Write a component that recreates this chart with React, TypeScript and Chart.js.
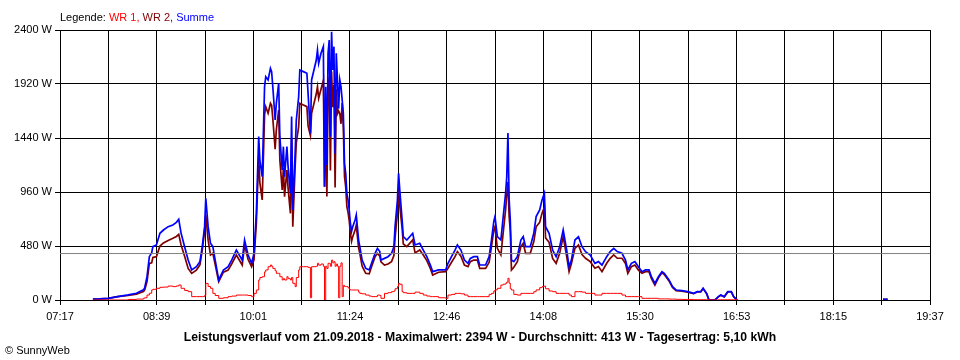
import React, { useEffect, useRef } from 'react';
import { Chart, registerables } from 'chart.js';
Chart.register(...registerables);

// ---- data ----
const times = [
  '07:45','07:51','07:58','08:06','08:15','08:22','08:28','08:29','08:31','08:33','08:35','08:36','08:39','08:42','08:45','08:49','08:53','08:56','08:58','09:00',
  '09:03','09:06','09:09','09:13','09:16','09:18','09:20','09:21','09:23','09:25','09:27','09:29','09:32','09:36','09:40','09:43','09:47','09:52','09:54','09:57',
  '10:00','10:02','10:04','10:06','10:07','10:09','10:11','10:12','10:14','10:16','10:17','10:18','10:20','10:21','10:23','10:24','10:26','10:27','10:28','10:30',
  '10:31','10:33','10:34','10:35','10:37','10:38','10:40','10:41','10:44','10:47','10:48','10:50','10:51','10:55','10:56','10:57','10:59','11:01','11:02','11:03',
  '11:04','11:05','11:06','11:07','11:08','11:09','11:10','11:11','11:12','11:13','11:14','11:15','11:16','11:17','11:18','11:19','11:20','11:21','11:22','11:23','11:24',
  '11:25','11:26','11:28','11:29','11:31','11:32','11:34','11:37','11:40','11:42','11:45','11:47','11:49','11:50','11:53','11:56','11:59','12:01','12:02','12:04',
  '12:05','12:06','12:08','12:09','12:12','12:17','12:19','12:23','12:26','12:29','12:32','12:34','12:39','12:45','12:47','12:50','12:53','12:55','12:58','13:01',
  '13:04','13:06','13:09','13:12','13:14','13:19','13:22','13:24','13:26','13:27','13:29','13:32','13:34','13:36','13:37','13:38','13:39','13:40','13:41','13:43',
  '13:46','13:49','13:51','13:53','13:57','14:00','14:02','14:05','14:07','14:09','14:10','14:13','14:16','14:19','14:22','14:25','14:28','14:30','14:32','14:35',
  '14:38','14:41','14:44','14:48','14:52','14:55','14:58','15:02','15:05','15:08','15:11','15:15','15:18','15:20','15:23','15:26','15:29','15:32','15:35','15:38',
  '15:40','15:43','15:46','15:49','15:51','15:55','15:58','16:01','16:06','16:11','16:16','16:19','16:22','16:24','16:27','16:29','16:34','16:37','16:39','16:42',
  '16:45','16:48','16:50','16:53','17:30','18:57','19:01'
];

const summe: (number | null)[] = [
  8,10,15,30,45,60,90,107,207,385,420,474,489,593,622,652,667,690,717,593,
  474,355,267,296,341,474,652,904,652,504,474,355,178,267,296,355,444,355,533,400,
  326,415,770,1452,1244,1096,1896,1985,1956,2059,2030,1896,1600,1748,1926,1452,1156,1363,1096,1363,
  1185,948,1630,800,1304,1600,1807,2044,2030,2015,1837,1481,1956,2133,2222,2104,2193,2252,1007,1896,
  1200,2193,2311,1452,2385,2044,2252,1300,2193,1956,1700,1956,1896,1780,1659,1215,1126,948,889,800,680,
  610,652,711,755,533,474,355,281,267,326,415,459,430,355,370,385,415,474,652,889,
  1126,978,711,563,533,593,489,504,444,385,311,252,267,267,326,385,444,489,444,355,
  326,370,385,385,311,311,385,533,700,741,563,533,741,948,1096,1484,900,711,355,341,
  385,533,563,474,474,593,741,800,889,948,652,593,444,385,474,622,444,296,355,533,
  563,474,430,400,326,341,311,385,430,459,430,415,355,267,326,341,296,252,267,267,
  207,148,207,252,237,178,119,89,83,74,59,74,74,104,59,0,0,30,44,30,
  74,74,30,0,null,5,5
];

const wr1: (number | null)[] = [
  0,0,0,0,5,8,15,20,44,60,89,95,104,113,115,124,119,125,133,104,
  85,74,30,30,30,30,40,148,120,104,59,40,15,20,30,35,44,44,44,40,
  30,59,89,178,200,207,250,267,296,311,300,281,260,237,237,207,178,190,178,207,
  190,178,200,148,119,200,267,296,296,296,290,20,296,300,326,310,320,300,0,300,
  280,326,326,300,355,330,340,300,320,300,20,300,330,30,130,120,119,119,110,95,89,
  89,89,89,89,70,59,55,44,35,30,30,44,40,15,59,65,74,80,100,119,
  148,140,74,65,59,59,70,59,44,35,30,30,20,15,44,50,59,59,55,44,
  30,30,30,30,30,30,50,59,80,90,104,133,140,148,160,193,150,100,89,50,
  44,59,59,59,59,74,90,110,119,124,100,80,74,59,59,59,59,44,30,74,
  74,70,59,59,44,44,59,59,59,59,59,44,30,30,30,30,30,15,15,15,
  15,15,10,10,10,8,8,6,5,5,3,3,3,3,3,0,0,2,2,2,
  2,2,2,0,null,null,null
];

const wr2: (number | null)[] = [
  8,10,15,30,40,52,75,87,163,325,331,379,385,480,507,528,548,565,584,489,
  389,281,237,266,311,444,612,756,532,400,415,315,163,247,266,320,400,311,489,360,
  296,356,681,1274,1044,889,1646,1718,1660,1748,1730,1615,1340,1511,1689,1245,978,1173,918,1156,
  995,770,1430,652,1185,1400,1540,1748,1734,1719,1547,1461,1660,1833,1896,1794,1873,1952,1007,1596,
  920,1867,1985,1152,2030,1714,1912,1000,1873,1656,1680,1656,1566,1750,1529,1095,1007,829,779,705,591,
  521,563,622,666,463,415,300,237,232,296,385,415,390,340,311,320,341,394,552,770,
  978,838,637,498,474,534,419,445,400,350,281,222,247,252,282,335,385,430,389,311,
  296,340,355,355,281,281,335,474,620,651,459,400,601,800,936,1050,750,611,266,291,
  341,474,504,415,415,519,651,690,770,824,552,513,370,326,415,563,385,252,325,459,
  489,404,371,341,282,297,252,326,371,400,371,371,325,237,296,311,266,237,252,252,
  192,133,197,242,227,170,111,83,78,69,56,71,71,101,56,0,0,28,42,28,
  72,72,28,0,null,5,5
];

const averageWatt = 413;
const xStart = '07:17';
const xEnd = '19:37';
const xTickLabels = ['07:17', '08:39', '10:01', '11:24', '12:46', '14:08', '15:30', '16:53', '18:15', '19:37'];
const yTickValues = [0, 480, 960, 1440, 1920, 2400];
const legendParts = [
  { text: 'Legende: ', color: '#000000' },
  { text: 'WR 1, ', color: '#ff0000' },
  { text: 'WR 2, ', color: '#800000' },
  { text: 'Summe', color: '#0000ff' },
];
const footerTitle = 'Leistungsverlauf vom 21.09.2018 - Maximalwert: 2394 W - Durchschnitt: 413 W - Tagesertrag: 5,10 kWh';
const copyright = '© SunnyWeb';

const FONT = '"Liberation Sans", Arial, sans-serif';

function toMin(t: string): number {
  const [h, m] = t.split(':').map(Number);
  return h * 60 + m;
}

function pts(values: (number | null)[]) {
  return times.map((t, i) => ({ x: toMin(t), y: values[i] }));
}

const textPlugin = {
  id: 'sunnyTexts',
  afterDraw(chart: any) {
    const ctx = chart.ctx as CanvasRenderingContext2D;
    ctx.save();
    ctx.textBaseline = 'alphabetic';
    ctx.font = `11px ${FONT}`;
    ctx.textAlign = 'left';
    let x = chart.chartArea.left;
    for (const p of legendParts) {
      ctx.fillStyle = p.color;
      ctx.fillText(p.text, x, 21);
      x += ctx.measureText(p.text).width;
    }
    ctx.fillStyle = '#000000';
    ctx.font = `bold 12.2px ${FONT}`;
    ctx.textAlign = 'center';
    ctx.fillText(footerTitle, 480, 341);
    ctx.font = `11px ${FONT}`;
    ctx.textAlign = 'left';
    ctx.fillText(copyright, 5, 354);
    ctx.restore();
  },
};

export default function App() {
  const ref = useRef<HTMLCanvasElement | null>(null);
  useEffect(() => {
    document.body.style.margin = '0';
    const canvas = ref.current!;
    const chart = new Chart(canvas, {
      type: 'line',
      data: {
        datasets: [
          {
            label: 'Durchschnitt',
            data: [
              { x: toMin(xStart), y: averageWatt },
              { x: toMin(xEnd), y: averageWatt },
            ],
            borderColor: '#808080',
            borderWidth: 1,
            pointRadius: 0,
          },
          {
            label: 'WR 1',
            data: pts(wr1),
            borderColor: '#ff0000',
            borderWidth: 1,
            pointRadius: 0,
            stepped: 'before',
            spanGaps: false,
          },
          {
            label: 'Summe',
            data: pts(summe),
            borderColor: '#0000ff',
            borderWidth: 1.7,
            pointRadius: 0,
            spanGaps: false,
          },
          {
            label: 'WR 2',
            data: pts(wr2),
            borderColor: '#800000',
            borderWidth: 1.7,
            pointRadius: 0,
            spanGaps: false,
          },
        ],
      },
      options: {
        animation: false,
        responsive: false,
        devicePixelRatio: 1,
        parsing: false,
        normalized: true,
        layout: { padding: { top: 30, right: 30, left: 0, bottom: 0 } },
        plugins: { legend: { display: false }, tooltip: { enabled: false }, title: { display: false } },
        scales: {
          x: {
            type: 'linear',
            min: toMin(xStart),
            max: toMin(xEnd),
            afterBuildTicks: (scale: any) => {
              const n = (xTickLabels.length - 1) * 2;
              const ticks = [];
              for (let i = 0; i <= n; i++) ticks.push({ value: scale.min + ((scale.max - scale.min) * i) / n });
              scale.ticks = ticks;
            },
            afterFit: (scale: any) => {
              scale.height = 60;
            },
            ticks: {
              autoSkip: false,
              maxRotation: 0,
              minRotation: 0,
              padding: 5,
              color: '#000000',
              font: { family: FONT, size: 11 },
              callback: (_v: any, i: number) => (i % 2 === 0 ? xTickLabels[i / 2] : ''),
            },
            grid: { color: '#000000', lineWidth: 1, tickLength: 5, drawTicks: true },
            border: { color: '#000000', width: 1 },
          },
          y: {
            type: 'linear',
            min: 0,
            max: 2400,
            afterBuildTicks: (scale: any) => {
              scale.ticks = yTickValues.map((v) => ({ value: v }));
            },
            afterFit: (scale: any) => {
              scale.width = 60;
            },
            ticks: {
              padding: 3,
              color: '#000000',
              font: { family: FONT, size: 11 },
              callback: (v: any) => `${v} W`,
            },
            grid: { color: '#000000', lineWidth: 1, tickLength: 5, drawTicks: true },
            border: { color: '#000000', width: 1 },
          },
        },
      },
      plugins: [textPlugin],
    } as any);
    return () => chart.destroy();
  }, []);
  return (
    <div style={{ width: 960, height: 360, background: '#ffffff' }}>
      <canvas ref={ref} width={960} height={360} style={{ display: 'block', width: 960, height: 360 }} />
    </div>
  );
}
